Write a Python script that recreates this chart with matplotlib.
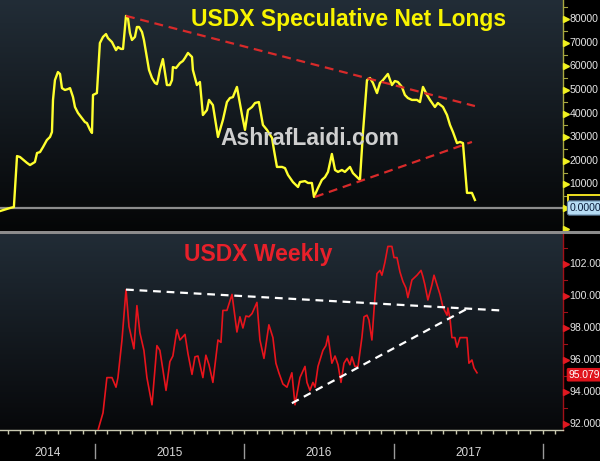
import numpy as np
import matplotlib
matplotlib.use("Agg")
import matplotlib.pyplot as plt
from matplotlib.colors import LinearSegmentedColormap
from matplotlib.lines import Line2D
from matplotlib.patches import Rectangle
import matplotlib.transforms as mtransforms

# ---------------- data ----------------
net_dates = [2014.364, 2014.431, 2014.457, 2014.478, 2014.498, 2014.545, 2014.565, 2014.598,
             2014.612, 2014.632, 2014.652, 2014.678, 2014.699, 2014.712, 2014.719, 2014.732,
             2014.752, 2014.766, 2014.779, 2014.799, 2014.819, 2014.833, 2014.853, 2014.866,
             2014.886, 2014.913, 2014.933, 2014.946, 2014.967, 2014.980, 2014.987, 2015.013,
             2015.033, 2015.054, 2015.074, 2015.087, 2015.114, 2015.141, 2015.154, 2015.174,
             2015.188, 2015.208, 2015.221, 2015.234, 2015.248, 2015.268, 2015.281, 2015.295,
             2015.315, 2015.328, 2015.348, 2015.362, 2015.382, 2015.402, 2015.415, 2015.422,
             2015.435, 2015.455, 2015.482, 2015.502, 2015.516, 2015.522, 2015.543, 2015.569,
             2015.589, 2015.603, 2015.623, 2015.650, 2015.656, 2015.683, 2015.703, 2015.723,
             2015.750, 2015.764, 2015.790, 2015.824, 2015.857, 2015.884, 2015.904, 2015.924,
             2015.951, 2015.985, 2016.005, 2016.025, 2016.052, 2016.072, 2016.098, 2016.125,
             2016.152, 2016.186, 2016.199, 2016.219, 2016.253, 2016.273, 2016.293, 2016.326,
             2016.360, 2016.373, 2016.407, 2016.427, 2016.453, 2016.467, 2016.494, 2016.520,
             2016.541, 2016.561, 2016.587, 2016.608, 2016.628, 2016.654, 2016.674, 2016.708,
             2016.728, 2016.755, 2016.775, 2016.795, 2016.822, 2016.842, 2016.862, 2016.889,
             2016.909, 2016.929, 2016.962, 2016.989, 2017.009, 2017.029, 2017.056, 2017.076,
             2017.096, 2017.123, 2017.157, 2017.177, 2017.197, 2017.224, 2017.244, 2017.277,
             2017.297, 2017.331, 2017.358, 2017.378, 2017.398, 2017.425, 2017.445, 2017.465,
             2017.492, 2017.525, 2017.545]
net_longs_k = [-1.3, 0.0, 0.4, 22.0, 21.6, 19.1, 18.2, 19.5,
               23.3, 23.7, 25.8, 28.8, 30.1, 32.2, 45.8, 54.2,
               57.6, 56.8, 50.8, 50.0, 50.4, 50.8, 47.0, 42.8,
               40.3, 38.1, 36.4, 36.0, 33.1, 31.8, 47.9, 48.7,
               69.9, 72.5, 73.7, 72.0, 70.3, 66.9, 68.2, 67.4,
               67.4, 81.4, 80.5, 74.2, 71.2, 72.5, 76.7, 76.7,
               74.6, 71.2, 63.6, 58.5, 55.1, 53.0, 52.5, 54.2,
               58.5, 63.1, 52.1, 52.1, 54.2, 59.7, 59.3, 61.4,
               62.3, 63.6, 65.7, 64.0, 58.5, 52.1, 53.4, 39.4,
               41.5, 45.8, 43.6, 30.1, 37.3, 44.9, 46.6, 47.0,
               51.3, 39.4, 33.1, 41.5, 42.8, 44.5, 44.9, 35.2,
               33.1, 29.7, 24.6, 17.4, 17.4, 16.9, 14.0, 11.0,
               8.9, 11.0, 11.4, 10.6, 10.6, 4.7, 8.5, 11.9,
               13.1, 15.3, 22.9, 16.1, 15.3, 16.1, 15.3, 17.4,
               14.8, 13.1, 11.9, 31.8, 54.2, 55.1, 53.0, 48.7,
               53.0, 54.2, 56.8, 52.1, 53.8, 53.4, 51.3, 47.9,
               46.6, 45.8, 45.8, 44.9, 51.3, 47.9, 45.8, 42.8,
               44.5, 42.8, 39.4, 35.2, 32.2, 27.5, 28.0, 27.5,
               6.4, 6.4, 3.4]

usdx_dates = [2015.020, 2015.054, 2015.080, 2015.114, 2015.141, 2015.154, 2015.181, 2015.208,
              2015.228, 2015.261, 2015.281, 2015.301, 2015.328, 2015.348, 2015.382, 2015.415,
              2015.435, 2015.455, 2015.476, 2015.502, 2015.522, 2015.549, 2015.569, 2015.603,
              2015.623, 2015.650, 2015.670, 2015.690, 2015.723, 2015.743, 2015.764, 2015.790,
              2015.824, 2015.844, 2015.857, 2015.884, 2015.918, 2015.951, 2015.971, 2015.991,
              2016.011, 2016.031, 2016.052, 2016.085, 2016.105, 2016.132, 2016.165, 2016.192,
              2016.212, 2016.232, 2016.259, 2016.286, 2016.319, 2016.340, 2016.373, 2016.407,
              2016.420, 2016.440, 2016.460, 2016.474, 2016.494, 2016.527, 2016.547, 2016.561,
              2016.587, 2016.608, 2016.628, 2016.648, 2016.668, 2016.688, 2016.708, 2016.721,
              2016.741, 2016.762, 2016.788, 2016.802, 2016.822, 2016.835, 2016.855, 2016.875,
              2016.889, 2016.909, 2016.922, 2016.942, 2016.962, 2016.989, 2017.003, 2017.023,
              2017.043, 2017.063, 2017.083, 2017.096, 2017.123, 2017.157, 2017.184, 2017.197,
              2017.210, 2017.230, 2017.257, 2017.271, 2017.291, 2017.311, 2017.331, 2017.358,
              2017.364, 2017.378, 2017.391, 2017.411, 2017.425, 2017.445, 2017.465, 2017.492,
              2017.505, 2017.525, 2017.539, 2017.559]
usdx_close = [91.6, 92.7, 94.9, 94.9, 94.3, 94.9, 97.25, 100.4,
              98.1, 96.7, 99.4, 97.7, 96.6, 94.9, 93.2, 96.9,
              96.6, 95.4, 94.1, 95.9, 96.25, 97.9, 97.25, 97.6,
              96.4, 95.1, 96.2, 96.25, 94.9, 96.3, 95.7, 94.6,
              97.25, 97.1, 99.1, 99.1, 100.1, 97.75, 98.7, 98.0,
              98.75, 98.7, 98.9, 99.6, 97.25, 96.1, 98.2, 97.4,
              95.8, 95.2, 94.5, 94.3, 95.2, 93.2, 94.9, 95.6,
              94.6, 94.1, 94.6, 94.3, 95.6, 96.6, 96.9, 97.5,
              95.8, 96.25, 95.7, 94.6, 95.8, 96.1, 95.7, 96.2,
              95.6, 95.6, 97.4, 98.7, 98.8, 98.5, 97.25, 99.9,
              101.4, 101.6, 101.3, 102.1, 103.1, 103.1, 102.4, 102.4,
              101.5, 100.9, 100.5, 99.9, 101.0, 101.3, 101.6, 101.2,
              100.7, 99.75, 100.7, 101.3, 100.7, 100.1, 99.3, 98.8,
              99.25, 98.6, 97.4, 97.4, 96.8, 97.4, 97.4, 97.4,
              95.8, 96.0, 95.5, 95.2]

net_upper_trend_dates = [2015.208, 2017.545]
net_upper_trend_k = [81.4, 43.2]
net_lower_trend_dates = [2016.474, 2017.525]
net_lower_trend_k = [4.7, 28.0]
usdx_upper_trend_dates = [2015.208, 2017.713]
usdx_upper_trend = [100.4, 99.1]
usdx_lower_trend_dates = [2016.319, 2017.492]
usdx_lower_trend = [93.3, 99.2]

net_ticks = [10000, 20000, 30000, 40000, 50000, 60000, 70000, 80000]
net_tick_labels = ["10000", "20000", "30000", "40000",
                   "50000", "60000", "70000", "80000"]
usdx_ticks = [92, 94, 96, 98, 100, 102]
usdx_tick_labels = ["92.000", "94.000", "96.000", "98.000", "100.00", "102.00"]
year_labels = ["2014", "2015", "2016", "2017"]
year_label_pos = [2014.68, 2015.5, 2016.5, 2017.5]
year_bounds = [2015.0, 2016.0, 2017.0, 2018.0]
last_net = 3400
zero_label = "0.0000"
last_usdx = 95.079
last_usdx_label = "95.079"

title_top = "USDX Speculative Net Longs"
title_bottom = "USDX Weekly"
watermark = "AshrafLaidi.com"

# ---------------- layout ----------------
W, H = 600, 461
fig = plt.figure(figsize=(W / 100, H / 100), dpi=100, facecolor="black")
XL = (2014.364, 2018.135)
AXR = 563  # right edge of plot areas in px

ax1 = fig.add_axes([0, 1 - 230 / H, AXR / W, 230 / H])
ax2 = fig.add_axes([0, 1 - 430 / H, AXR / W, 196 / H])


def gradient(ax, top, bottom):
    cmap = LinearSegmentedColormap.from_list("g", [bottom, top])
    ax.imshow(np.linspace(0, 1, 256).reshape(-1, 1), extent=[0, 1, 0, 1],
              transform=ax.transAxes, cmap=cmap, aspect="auto", origin="lower",
              zorder=0, interpolation="bilinear")


gradient(ax1, "#222d37", "#050607")
gradient(ax2, "#212c36", "#07080a")

for ax in (ax1, ax2):
    ax.set_facecolor("black")
    for s in ("left", "top", "bottom"):
        ax.spines[s].set_visible(False)
    ax.set_xlim(*XL)
    ax.set_xticks([])
    ax.tick_params(left=False, labelleft=False, right=False, labelright=False)

# ---- top panel ----
net_vals = [v * 1000 for v in net_longs_k]
ax1.set_ylim(-9322, 88136)
ax1.axhline(0, color="#8c8c8c", lw=1.6, zorder=2)
ax1.plot(net_dates, net_vals, color="#ffff2e", lw=1.7, zorder=4, solid_joinstyle="round")
ax1.plot(net_upper_trend_dates, [v * 1000 for v in net_upper_trend_k], color="#d82a2a",
         lw=1.6, dashes=(4, 2.6), zorder=5)
ax1.plot(net_lower_trend_dates, [v * 1000 for v in net_lower_trend_k], color="#d82a2a",
         lw=1.6, dashes=(4, 2.6), zorder=5)
ax1.spines["right"].set_color("#a8a840")
ax1.spines["right"].set_linewidth(1.0)

# ---- bottom panel ----
ax2.set_ylim(91.625, 103.875)
ax2.plot(usdx_dates, usdx_close, color="#e8141c", lw=1.2, zorder=4)
ax2.plot(usdx_upper_trend_dates, usdx_upper_trend, color="white", lw=1.6,
         dashes=(3.5, 2.6), zorder=5)
ax2.plot(usdx_lower_trend_dates, usdx_lower_trend, color="white", lw=1.6,
         dashes=(3.5, 2.6), zorder=5)
ax2.spines["right"].set_color("#a01018")
ax2.spines["right"].set_linewidth(1.0)
ax2.spines["bottom"].set_visible(True)
ax2.spines["bottom"].set_color("#c8c8b0")
ax2.spines["bottom"].set_linewidth(1.0)
months = [y + m / 12 for y in range(2014, 2019) for m in range(12)]
months = [m for m in months if XL[0] < m < XL[1]]
ax2.set_xticks(months)
ax2.tick_params(axis="x", direction="out", length=3, width=1, color="#c8c8b0",
                labelbottom=False, bottom=True)

# ---- right-hand axis ticks & labels ----
lab_font = dict(family="Liberation Sans", fontsize=7.6)
tri_x = 1 + 2.5 / AXR
lab_x = 1 + 6.5 / AXR
b1 = mtransforms.blended_transform_factory(ax1.transAxes, ax1.transData)
b2 = mtransforms.blended_transform_factory(ax2.transAxes, ax2.transData)

ax1.plot([tri_x] * (len(net_ticks) + 2), [-9000, 0] + net_ticks, transform=b1,
         marker=">", ms=4, ls="none", color="#f0f020", clip_on=False, zorder=6)
for t in range(5000, 90000, 10000):
    ax1.plot([1, 1 + 4 / AXR], [t, t], transform=b1, color="#a8a840", lw=0.8,
             clip_on=False)
for t, lab in zip(net_ticks, net_tick_labels):
    ax1.text(lab_x, t, lab, transform=b1, color="#e6e6e6", ha="left", va="center",
             clip_on=False, **lab_font)

ax2.plot([tri_x] * len(usdx_ticks), usdx_ticks, transform=b2, marker=">", ms=4,
         ls="none", color="#e01820", clip_on=False, zorder=6)
for t in range(93, 104, 2):
    ax2.plot([1, 1 + 4 / AXR], [t, t], transform=b2, color="#a01018", lw=0.8,
             clip_on=False)
for t, lab in zip(usdx_ticks, usdx_tick_labels):
    ax2.text(lab_x, t, lab, transform=b2, color="#e6e6e6", ha="left", va="center",
             clip_on=False, **lab_font)

# last-value marker for net longs (yellow box, mostly hidden behind the 0 label)
ax1.add_patch(Rectangle((1 + 5 / AXR, 0), 40 / AXR, last_net + 2200, transform=b1,
                        fc="#0d0f12", ec="#f0e020", lw=1.4, clip_on=False, zorder=7))
ax1.text(lab_x, 0, zero_label, transform=b1, color="#0b1d3a", ha="left", va="center",
         clip_on=False, zorder=8, **lab_font,
         bbox=dict(boxstyle="round,pad=0.2", fc="#b6dcf4", ec="#5a7a98", lw=0.8))
ax2.text(lab_x - 1 / AXR, last_usdx, last_usdx_label, transform=b2, color="white",
         ha="left", va="center", clip_on=False, zorder=8,
         family="Liberation Sans", fontsize=7.4,
         bbox=dict(boxstyle="round,pad=0.12", fc="#e0141c", ec="#e0141c", lw=0.8))

# ---- panel separator ----
fig.add_artist(Line2D([0, 1], [1 - 232 / H] * 2, transform=fig.transFigure,
                      color="#8c8c8c", lw=2.2))

# ---- year labels & separators ----
bx = mtransforms.blended_transform_factory(ax2.transData, fig.transFigure)
for x, lab in zip(year_label_pos, year_labels):
    ax2.text(x, 1 - 453 / H, lab, transform=bx, color="#d8d8d8", ha="center",
             va="center", family="Liberation Sans", fontsize=8.5, clip_on=False)
for x in year_bounds:
    ax2.plot([x, x], [1 - 444 / H, 1 - 458 / H], transform=bx, color="#9a9a9a",
             lw=1.0, clip_on=False)

# ---- titles & watermark ----
tfont = dict(family="Liberation Sans", fontweight="bold", fontsize=16.5)
fig.text(348.5 / W, 1 - 26 / H, title_top, color="#f8f400", ha="center",
         va="baseline", **tfont)
fig.text(258 / W, 1 - 261 / H, title_bottom, color="#e8202a", ha="center",
         va="baseline", **tfont)
fig.text(309.5 / W, 1 - 145 / H, watermark, color="#cfcfcf", ha="center",
         va="baseline", zorder=10, **tfont)

fig.savefig("out.png", dpi=100, facecolor="black")
